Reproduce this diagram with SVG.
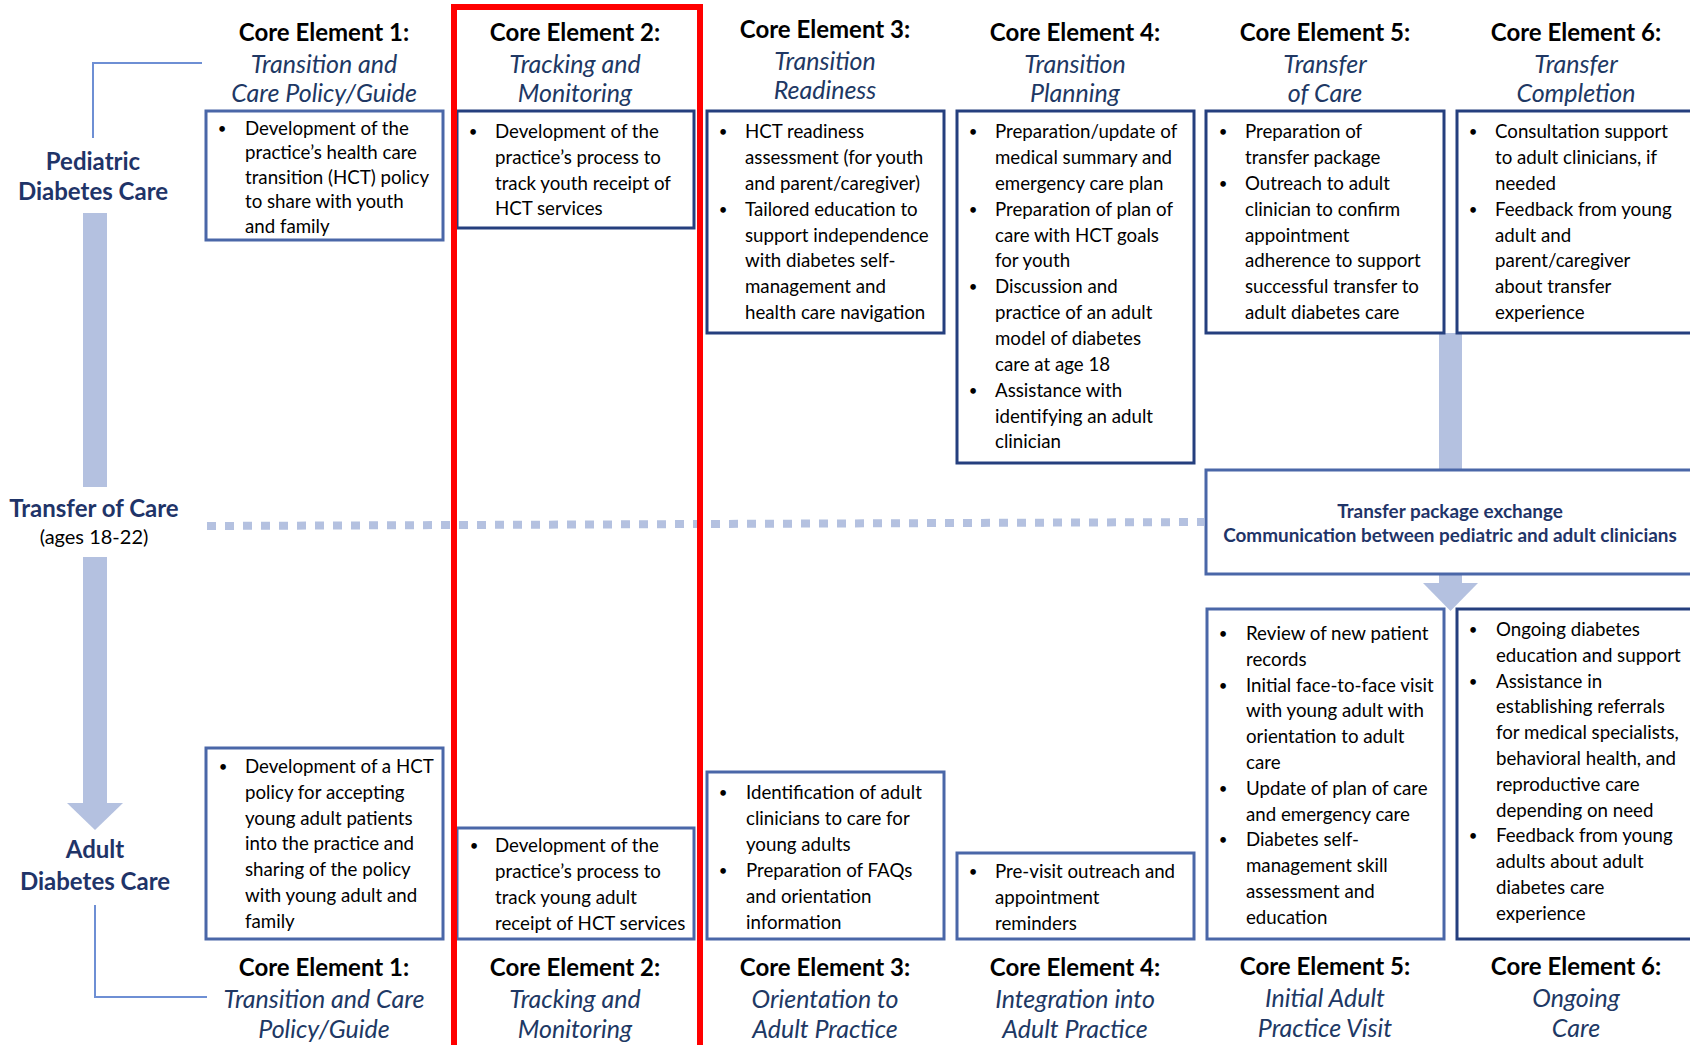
<svg xmlns="http://www.w3.org/2000/svg" width="1690" height="1045" viewBox="0 0 1690 1045">
<style>
text{font-family:Lato,"Liberation Sans",sans-serif}
.t{font-weight:700;font-size:24px;fill:#000;text-anchor:middle}
.s{font-style:italic;font-size:25px;fill:#203864;text-anchor:middle}
.b{font-size:18.7px;fill:#000}
.u{font-size:15px;fill:#000;text-anchor:middle}
.rl{font-weight:700;font-size:24px;fill:#1F3468;text-anchor:middle}
.ag{font-size:20px;fill:#000;text-anchor:middle}
.tb{font-weight:700;font-size:18.9px;fill:#1F3468;text-anchor:middle}
.bx{fill:#fff;stroke:#253F7E;stroke-width:3}
.bl{fill:#fff;stroke:#4A67A8;stroke-width:3}
.bar{fill:#B4C1E0}
.br{fill:none;stroke:#6E8FD4;stroke-width:2}
</style>
<g id="connectors">
<polyline class="br" points="93,138 93,63 202,63"/>
<polyline class="br" points="95,905 95,997 207,997"/>
<rect class="bar" x="83" y="213" width="24" height="274"/>
<rect class="bar" x="83" y="557" width="24" height="247"/>
<polygon class="bar" points="67,803 123,803 95,830"/>
<line x1="207" y1="526" x2="1204" y2="522" stroke="#B4C1E0" stroke-width="8" stroke-dasharray="9 9"/>
<rect class="bar" x="1439" y="333" width="23" height="138"/>
<rect class="bar" x="1439" y="574" width="23" height="10"/>
<polygon class="bar" points="1423,583 1478,583 1450.5,611"/>
</g>
<g id="label-pediatric">
<text class="rl" x="93" y="170">Pediatric</text>
<text class="rl" x="93" y="200">Diabetes Care</text>
</g>
<g id="label-transfer">
<text class="rl" x="94" y="517">Transfer of Care</text>
<text class="ag" x="94" y="544">(ages 18-22)</text>
</g>
<g id="label-adult">
<text class="rl" x="95" y="858">Adult</text>
<text class="rl" x="95" y="890">Diabetes Care</text>
</g>
<g id="ped-ce1">
<text class="t" x="324" y="41">Core Element 1:</text>
<text class="s" x="324" y="73">Transition and</text>
<text class="s" x="324" y="102">Care Policy/Guide</text>
<rect class="bl" x="206" y="111" width="237" height="129"/>
<text class="u" x="222" y="134">•</text>
<text class="b"><tspan x="245" y="135">Development of the</tspan><tspan x="245" y="159.4">practice’s health care</tspan><tspan x="245" y="183.8">transition (HCT) policy</tspan><tspan x="245" y="208.2">to share with youth</tspan><tspan x="245" y="232.6">and family</tspan></text>
</g>
<g id="ped-ce2">
<text class="t" x="575" y="41">Core Element 2:</text>
<text class="s" x="575" y="73">Tracking and</text>
<text class="s" x="575" y="102">Monitoring</text>
<rect class="bx" x="457" y="111" width="237" height="117"/>
<text class="u" x="473" y="137">•</text>
<text class="b"><tspan x="495" y="138">Development of the</tspan><tspan x="495" y="163.8">practice’s process to</tspan><tspan x="495" y="189.6">track youth receipt of</tspan><tspan x="495" y="215.4">HCT services</tspan></text>
</g>
<g id="ped-ce3">
<text class="t" x="825" y="38">Core Element 3:</text>
<text class="s" x="825" y="70">Transition</text>
<text class="s" x="825" y="99">Readiness</text>
<rect class="bx" x="707" y="111" width="237" height="222"/>
<text class="u" x="723" y="137">•</text>
<text class="u" x="723" y="214.6">•</text>
<text class="b"><tspan x="745" y="138">HCT readiness</tspan><tspan x="745" y="163.9">assessment (for youth</tspan><tspan x="745" y="189.7">and parent/caregiver)</tspan><tspan x="745" y="215.6">Tailored education to</tspan><tspan x="745" y="241.5">support independence</tspan><tspan x="745" y="267.4">with diabetes self-</tspan><tspan x="745" y="293.2">management and</tspan><tspan x="745" y="319.1">health care navigation</tspan></text>
</g>
<g id="ped-ce4">
<text class="t" x="1075" y="41">Core Element 4:</text>
<text class="s" x="1075" y="73">Transition</text>
<text class="s" x="1075" y="102">Planning</text>
<rect class="bx" x="957" y="111" width="237" height="352"/>
<text class="u" x="973" y="137">•</text>
<text class="u" x="973" y="214.6">•</text>
<text class="u" x="973" y="292.2">•</text>
<text class="u" x="973" y="395.7">•</text>
<text class="b"><tspan x="995" y="138">Preparation/update of</tspan><tspan x="995" y="163.9">medical summary and</tspan><tspan x="995" y="189.7">emergency care plan</tspan><tspan x="995" y="215.6">Preparation of plan of</tspan><tspan x="995" y="241.5">care with HCT goals</tspan><tspan x="995" y="267.4">for youth</tspan><tspan x="995" y="293.2">Discussion and</tspan><tspan x="995" y="319.1">practice of an adult</tspan><tspan x="995" y="345">model of diabetes</tspan><tspan x="995" y="370.8">care at age 18</tspan><tspan x="995" y="396.7">Assistance with</tspan><tspan x="995" y="422.6">identifying an adult</tspan><tspan x="995" y="448.4">clinician</tspan></text>
</g>
<g id="ped-ce5">
<text class="t" x="1325" y="41">Core Element 5:</text>
<text class="s" x="1325" y="73">Transfer</text>
<text class="s" x="1325" y="102">of Care</text>
<rect class="bx" x="1206" y="111" width="238" height="222"/>
<text class="u" x="1223" y="137">•</text>
<text class="u" x="1223" y="188.7">•</text>
<text class="b"><tspan x="1245" y="138">Preparation of</tspan><tspan x="1245" y="163.9">transfer package</tspan><tspan x="1245" y="189.7">Outreach to adult</tspan><tspan x="1245" y="215.6">clinician to confirm</tspan><tspan x="1245" y="241.5">appointment</tspan><tspan x="1245" y="267.4">adherence to support</tspan><tspan x="1245" y="293.2">successful transfer to</tspan><tspan x="1245" y="319.1">adult diabetes care</tspan></text>
</g>
<g id="ped-ce6">
<text class="t" x="1576" y="41">Core Element 6:</text>
<text class="s" x="1576" y="73">Transfer</text>
<text class="s" x="1576" y="102">Completion</text>
<rect class="bx" x="1457" y="111" width="250" height="222"/>
<text class="u" x="1473" y="137">•</text>
<text class="u" x="1473" y="214.6">•</text>
<text class="b"><tspan x="1495" y="138">Consultation support</tspan><tspan x="1495" y="163.9">to adult clinicians, if</tspan><tspan x="1495" y="189.7">needed</tspan><tspan x="1495" y="215.6">Feedback from young</tspan><tspan x="1495" y="241.5">adult and</tspan><tspan x="1495" y="267.4">parent/caregiver</tspan><tspan x="1495" y="293.2">about transfer</tspan><tspan x="1495" y="319.1">experience</tspan></text>
</g>
<g id="transfer-exchange">
<rect class="bl" x="1206" y="470" width="500" height="104"/>
<text class="tb" x="1450" y="518">Transfer package exchange</text>
<text class="tb" x="1450" y="542">Communication between pediatric and adult clinicians</text>
</g>
<g id="adult-ce1">
<rect class="bl" x="206" y="748" width="237" height="191"/>
<text class="u" x="223" y="772">•</text>
<text class="b"><tspan x="245" y="773">Development of a HCT</tspan><tspan x="245" y="798.8">policy for accepting</tspan><tspan x="245" y="824.6">young adult patients</tspan><tspan x="245" y="850.4">into the practice and</tspan><tspan x="245" y="876.2">sharing of the policy</tspan><tspan x="245" y="902">with young adult and</tspan><tspan x="245" y="927.8">family</tspan></text>
<text class="t" x="324" y="976">Core Element 1:</text>
<text class="s" x="324" y="1008">Transition and Care</text>
<text class="s" x="324" y="1038">Policy/Guide</text>
</g>
<g id="adult-ce2">
<rect class="bl" x="457" y="828" width="237" height="111"/>
<text class="u" x="474" y="851">•</text>
<text class="b"><tspan x="495" y="852">Development of the</tspan><tspan x="495" y="877.9">practice’s process to</tspan><tspan x="495" y="903.8">track young adult</tspan><tspan x="495" y="929.7">receipt of HCT services</tspan></text>
<text class="t" x="575" y="976">Core Element 2:</text>
<text class="s" x="575" y="1008">Tracking and</text>
<text class="s" x="575" y="1038">Monitoring</text>
</g>
<g id="adult-ce3">
<rect class="bl" x="707" y="772" width="237" height="167"/>
<text class="u" x="723" y="798">•</text>
<text class="u" x="723" y="875.7">•</text>
<text class="b"><tspan x="746" y="799">Identification of adult</tspan><tspan x="746" y="824.9">clinicians to care for</tspan><tspan x="746" y="850.8">young adults</tspan><tspan x="746" y="876.7">Preparation of FAQs</tspan><tspan x="746" y="902.6">and orientation</tspan><tspan x="746" y="928.5">information</tspan></text>
<text class="t" x="825" y="976">Core Element 3:</text>
<text class="s" x="825" y="1008">Orientation to</text>
<text class="s" x="825" y="1038">Adult Practice</text>
</g>
<g id="adult-ce4">
<rect class="bl" x="957" y="853" width="237" height="86"/>
<text class="u" x="973" y="877">•</text>
<text class="b"><tspan x="995" y="878">Pre-visit outreach and</tspan><tspan x="995" y="903.9">appointment</tspan><tspan x="995" y="929.8">reminders</tspan></text>
<text class="t" x="1075" y="976">Core Element 4:</text>
<text class="s" x="1075" y="1008">Integration into</text>
<text class="s" x="1075" y="1038">Adult Practice</text>
</g>
<g id="adult-ce5">
<rect class="bl" x="1207" y="609" width="237" height="330"/>
<text class="u" x="1223" y="639">•</text>
<text class="u" x="1223" y="690.6">•</text>
<text class="u" x="1223" y="793.8">•</text>
<text class="u" x="1223" y="845.4">•</text>
<text class="b"><tspan x="1246" y="640">Review of new patient</tspan><tspan x="1246" y="665.8">records</tspan><tspan x="1246" y="691.6">Initial face-to-face visit</tspan><tspan x="1246" y="717.4">with young adult with</tspan><tspan x="1246" y="743.2">orientation to adult</tspan><tspan x="1246" y="769">care</tspan><tspan x="1246" y="794.8">Update of plan of care</tspan><tspan x="1246" y="820.6">and emergency care</tspan><tspan x="1246" y="846.4">Diabetes self-</tspan><tspan x="1246" y="872.2">management skill</tspan><tspan x="1246" y="898">assessment and</tspan><tspan x="1246" y="923.8">education</tspan></text>
<text class="t" x="1325" y="975">Core Element 5:</text>
<text class="s" x="1325" y="1007">Initial Adult</text>
<text class="s" x="1325" y="1037">Practice Visit</text>
</g>
<g id="adult-ce6">
<rect class="bx" x="1457" y="609" width="250" height="330"/>
<text class="u" x="1473" y="635">•</text>
<text class="u" x="1473" y="686.6">•</text>
<text class="u" x="1473" y="841.4">•</text>
<text class="b"><tspan x="1496" y="636">Ongoing diabetes</tspan><tspan x="1496" y="661.8">education and support</tspan><tspan x="1496" y="687.6">Assistance in</tspan><tspan x="1496" y="713.4">establishing referrals</tspan><tspan x="1496" y="739.2">for medical specialists,</tspan><tspan x="1496" y="765">behavioral health, and</tspan><tspan x="1496" y="790.8">reproductive care</tspan><tspan x="1496" y="816.6">depending on need</tspan><tspan x="1496" y="842.4">Feedback from young</tspan><tspan x="1496" y="868.2">adults about adult</tspan><tspan x="1496" y="894">diabetes care</tspan><tspan x="1496" y="919.8">experience</tspan></text>
<text class="t" x="1576" y="975">Core Element 6:</text>
<text class="s" x="1576" y="1007">Ongoing</text>
<text class="s" x="1576" y="1037">Care</text>
</g>
<g id="highlight">
<rect x="454" y="7" width="246" height="1050" fill="none" stroke="#FF0000" stroke-width="6"/>
</g>
</svg>
